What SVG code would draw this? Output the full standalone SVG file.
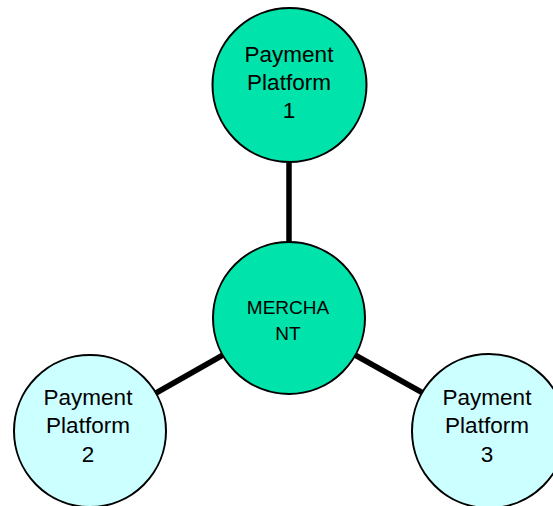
<svg xmlns="http://www.w3.org/2000/svg" width="553" height="506" viewBox="0 0 553 506">
<style>
.n{stroke:#000;stroke-width:2}
.g{fill:#00E3AA}
.c{fill:#CCFFFF}
.t{font-family:"Liberation Sans",Arial,sans-serif;font-size:22.5px;fill:#000;text-anchor:middle}
.m{font-size:19px}
.e{stroke:#000;stroke-width:5.5;fill:none}
</style>
<rect width="553" height="506" fill="#fff"/>
<g id="connectors">
<line class="e" x1="289" y1="163" x2="289" y2="243"/>
<line class="e" x1="223" y1="355" x2="156" y2="393"/>
<line class="e" x1="355" y1="355" x2="423" y2="393"/>
</g>
<g id="platform1">
<circle class="n g" cx="289.5" cy="85" r="77"/>
<text class="t" x="289" y="62">Payment</text>
<text class="t" x="289" y="90">Platform</text>
<text class="t" x="289" y="118">1</text>
</g>
<g id="merchant">
<circle class="n g" cx="289" cy="318" r="76"/>
<text class="t m" x="288" y="314">MERCHA</text>
<text class="t m" x="288" y="340">NT</text>
</g>
<g id="platform2">
<circle class="n c" cx="90" cy="431" r="76"/>
<text class="t" x="88" y="405">Payment</text>
<text class="t" x="88" y="433">Platform</text>
<text class="t" x="88" y="462">2</text>
</g>
<g id="platform3">
<circle class="n c" cx="489" cy="431" r="77"/>
<text class="t" x="487" y="405">Payment</text>
<text class="t" x="487" y="433">Platform</text>
<text class="t" x="487" y="462">3</text>
</g>
</svg>
